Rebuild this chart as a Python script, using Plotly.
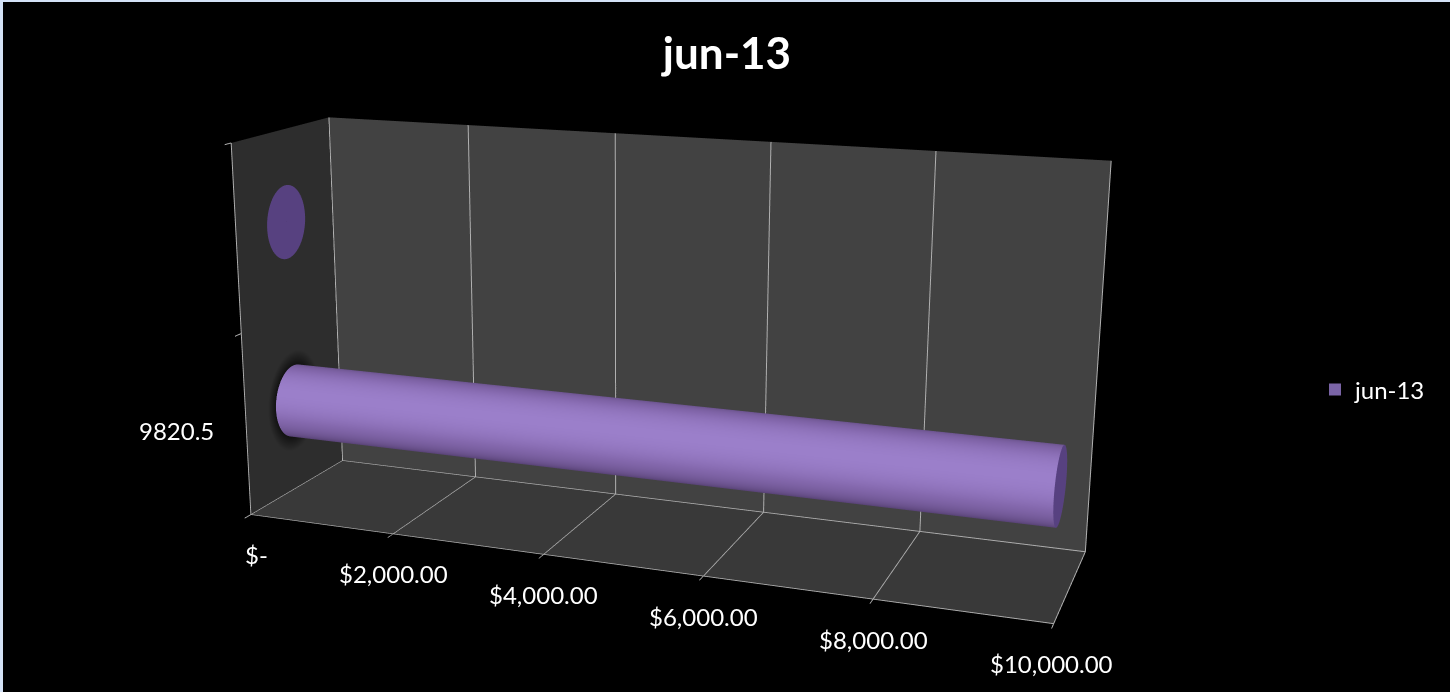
import numpy as np
import plotly.graph_objects as go

TITLE = "jun-13"
CATEGORIES = ["9820.5", ""]
VALUES = [9820.5, 0]
X_TICKS = [0, 2000, 4000, 6000, 8000, 10000]
X_LABELS = ["$-", "$2,000.00", "$4,000.00", "$6,000.00", "$8,000.00", "$10,000.00"]

W, H = 1450, 1630
SHIFT = 438
FONT = "Lato"
def py(v):
    return 1 - (v + SHIFT) / H

R = 0.2
AY = 0.5069
ry = R * 0.5 / AY
flat = dict(ambient=1, diffuse=0, specular=0, fresnel=0)
fig = go.Figure()
th = np.linspace(0, 2 * np.pi, 145)
for i, v in enumerate(VALUES):
    zc = i + 0.5
    if v > 0:
        rr = np.linspace(1.0, 1.4, 8)
        T, RR = np.meshgrid(th, rr)
        fig.add_trace(go.Surface(x=np.zeros_like(T), y=0.5 + ry * RR * np.cos(T), z=zc + R * RR * np.sin(T),
                                 surfacecolor=RR, colorscale=[[0, "#121212"], [1, "#2d2d2d"]], showscale=False,
                                 hoverinfo="skip", lighting=flat))
        X, T = np.meshgrid([0, v], th)
        s = np.clip(np.cos(T - np.radians(152)), 0, 1)
        fig.add_trace(go.Surface(x=X, y=0.5 + ry * np.cos(T), z=zc + R * np.sin(T), surfacecolor=s,
                                 colorscale=[[0, "#5a4478"], [0.7, "#8468ad"], [1, "#9b7fca"]], cmin=0, cmax=1,
                                 showscale=False, hoverinfo="skip", lighting=flat))
    T, RR = np.meshgrid(th, np.linspace(0, 1, 2))
    fig.add_trace(go.Surface(x=np.full_like(T, v), y=0.5 + ry * RR * np.cos(T), z=zc + R * RR * np.sin(T),
                             surfacecolor=np.zeros_like(T), colorscale=[[0, "#574180"], [1, "#574180"]],
                             showscale=False, hoverinfo="skip", lighting=flat))
fig.add_trace(go.Scatter3d(x=[None], y=[None], z=[None], mode="markers", name=TITLE, showlegend=True,
                           marker=dict(symbol="square", size=9, color="#7a64a6")))

grid = "#b0b0b0"
common = dict(showspikes=False, showline=False, zeroline=False, title="", gridcolor=grid, gridwidth=2,
              color="white", tickfont=dict(family=FONT, size=1, color="black"))
label_font = dict(family=FONT, size=24, color="white")
notes = [dict(x=0, y=0, z=0.5, text=CATEGORIES[0], showarrow=False, xanchor="right", xshift=-30, yshift=-5,
              font=label_font)]
for v, t in zip(X_TICKS, X_LABELS):
    notes.append(dict(x=v, y=0, z=0, text=t, showarrow=False, xanchor="center", yanchor="middle",
                      xshift=6 if v == 0 else (-2 if v == 10000 else 0), yshift=-40, font=label_font))
fig.update_layout(
    width=W, height=H, paper_bgcolor="black", showlegend=True,
    margin=dict(l=0, r=0, t=0, b=0),
    title=dict(text="<b>%s</b>" % TITLE, x=727 / W, xanchor="center", y=py(54), yanchor="middle",
               font=dict(family=FONT, size=44, color="white")),
    legend=dict(x=1315 / W, xanchor="left", y=py(390), yanchor="middle", font=dict(family=FONT, size=24, color="white"),
                bgcolor="rgba(0,0,0,0)", itemsizing="constant"),
    scene=dict(
        domain=dict(x=[0, 0.8601], y=[0, 1]), bgcolor="black",
        aspectmode="manual", aspectratio=dict(x=2.1309, y=AY, z=1),
        camera=dict(eye=dict(x=1.6423, y=-4.5587, z=1.2516), center=dict(x=-0.0359, y=-0.1512, z=-0.0434),
                    up=dict(x=0.0066, y=0, z=1), projection=dict(type="perspective")),
        xaxis=dict(range=[0, 10000], tickvals=X_TICKS, ticktext=[""] * 6, showgrid=True, showbackground=True,
                   backgroundcolor="#2d2d2d", ticks="outside", ticklen=40, tickcolor=grid, tickwidth=2, **common),
        yaxis=dict(range=[0, 1], tickvals=[0, 1], ticktext=["", ""], showgrid=True, showbackground=True,
                   backgroundcolor="#424242", **common),
        zaxis=dict(range=[0, 2], tickvals=[0, 1, 2], ticktext=["", "", ""], showgrid=False, showbackground=True,
                   backgroundcolor="#393939", ticks="outside", ticklen=28, tickcolor=grid, tickwidth=2, **common),
        annotations=notes,
    ),
)
border = "#d4e2f7"
for x0, x1, y0, y1 in [(0, 3, 0, 692), (0, 1450, 0, 2)]:
    fig.add_shape(type="rect", xref="paper", yref="paper", x0=x0 / W, x1=x1 / W, y0=py(y0), y1=py(y1),
                  fillcolor=border, line_width=0, layer="above")
post = ("document.body.style.margin='0';document.body.style.overflow='hidden';"
        "document.documentElement.style.overflow='hidden';"
        "document.getElementById('{plot_id}').style.marginTop='-%dpx';" % SHIFT)
fig.write_html("out.html", post_script=post)
